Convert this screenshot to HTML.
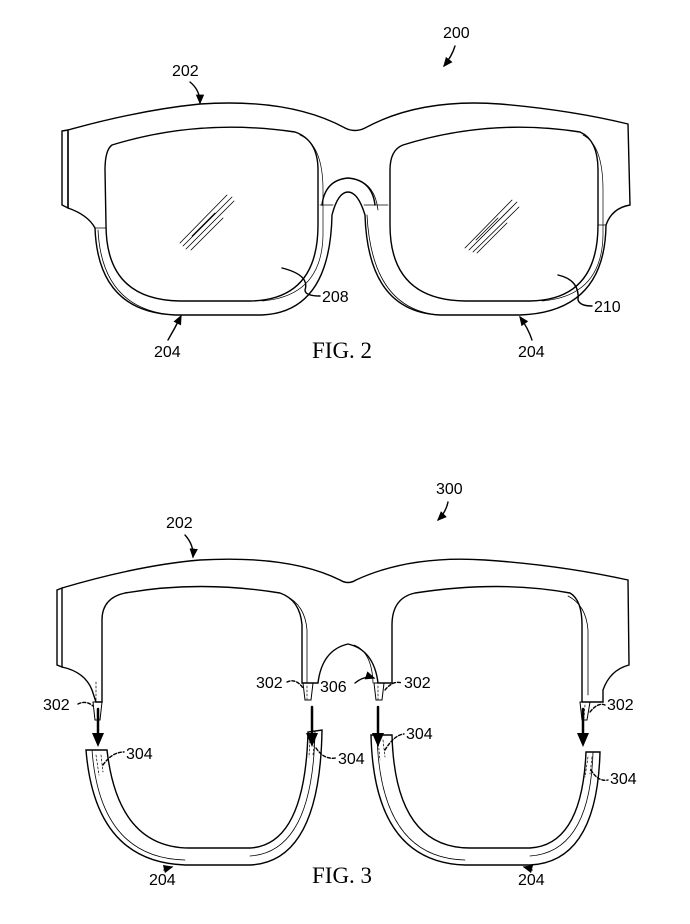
<!DOCTYPE html>
<html><head><meta charset="utf-8"><style>
html,body{margin:0;padding:0;background:#fff}
svg{display:block}
text{font-family:"Liberation Sans",sans-serif;font-size:16px;fill:#000}
.fig{font-family:"Liberation Serif",serif;font-size:23px}
</style></head><body>
<svg width="690" height="924" viewBox="0 0 690 924" xmlns="http://www.w3.org/2000/svg" fill="none" stroke="#000" stroke-width="1.4" stroke-linecap="round">
<defs><marker id="ah" markerWidth="8" markerHeight="8" refX="6" refY="4" orient="auto"><path d="M0,1 L7,4 L0,7 Z" fill="#000" stroke="none"/></marker></defs>

<!-- FIG 2 -->
<text x="443" y="38" stroke="none">200</text>
<path d="M455,46 Q452,56 444,66" marker-end="url(#ah)"/>
<text x="172" y="76" stroke="none">202</text>
<path d="M190,82 Q200,90 200,103" marker-end="url(#ah)"/>
<path d="M68,130 Q140,110 200,104 Q290,98 345,128 Q355,133 365,128 Q420,98 500,104 Q570,110 628,124 L630,205 Q612,208 606,225 Q605,312 520,315 L440,315 Q368,312 365,215 Q358,192 348,192 Q338,192 332,215 Q330,312 262,315 L175,315 Q98,312 95,228 Q88,215 68,208 Z"/>
<path d="M62,131 L68,130 L68,208 L62,205 Z"/>
<path d="M112,145 Q200,118 295,132 Q318,140 318,170 L318,225 Q318,300 250,301 L180,301 Q106,300 106,225 L105,170 Q105,150 112,145 Z"/>
<path d="M300,135 Q323,145 323,190 L323,235 Q322,296 262,301" stroke-width="0.7"/>
<path d="M403,145 Q490,118 580,132 Q598,140 598,170 L598,225 Q598,300 530,301 L465,301 Q390,300 390,225 L390,170 Q390,150 403,145 Z"/>
<path d="M583,135 Q603,145 603,190 L603,235 Q602,296 542,301" stroke-width="0.7"/>
<path d="M322,205 Q325,180 348,178 Q372,180 375,205"/>
<path d="M357,180 Q375,185 378,210" stroke-width="0.8"/>
<path d="M95,228 L106,228 M320,205 L333,205 M364,205 L388,205 M598,225 L606,225" stroke-width="0.8"/>
<path d="M98,230 Q102,310 175,315" stroke-width="0.8"/>
<path d="M367,215 Q372,310 440,315" stroke-width="0.8"/>
<g stroke-width="0.8">
<path d="M180,243 L227,195 M183,246 L232,197 M186,249 L234,201 M191,250 L223,218 M192,236 L215,213"/>
<path d="M465,248 L512,200 M469,250 L517,202 M473,252 L519,207 M477,253 L507,223 M476,240 L498,218"/>
</g>
<path d="M282,268 Q310,275 305,290 Q305,296 320,296"/>
<text x="322" y="302" stroke="none">208</text>
<path d="M558,275 Q580,280 578,300 Q580,306 592,306"/>
<text x="594" y="312" stroke="none">210</text>
<path d="M168,340 Q175,328 181,316" marker-end="url(#ah)"/>
<text x="154" y="357" stroke="none">204</text>
<path d="M532,340 Q528,328 520,317" marker-end="url(#ah)"/>
<text x="518" y="357" stroke="none">204</text>
<text class="fig" x="312" y="358" stroke="none">FIG. 2</text>

<!-- FIG 3 -->
<text x="436" y="494" stroke="none">300</text>
<path d="M448,502 Q446,512 438,520" marker-end="url(#ah)"/>
<text x="166" y="528" stroke="none">202</text>
<path d="M185,535 Q194,545 193,557" marker-end="url(#ah)"/>
<path d="M62,588 Q140,565 200,560 Q290,555 340,580 Q348,585 356,580 Q410,555 485,560 Q560,565 628,580 L629,665 Q610,670 603,690 L603,702 L582,702"/>
<path d="M57,590 L62,588 L62,667 L57,665 Z"/>
<path d="M62,667 Q85,672 92,690 L96,702 L102,702 L102,620 Q102,598 125,593 Q200,580 280,593 Q300,600 302,625 L302,683 L318,683 Q322,650 348,644 Q374,650 378,683 L392,683 L392,625 Q392,598 415,593 Q500,580 570,593 Q582,600 582,625 L582,702"/>
<path d="M286,596 Q305,605 307,630 L307,683" stroke-width="0.8"/>
<path d="M354,645 Q372,652 373,683" stroke-width="0.8"/>
<path d="M568,596 Q586,605 588,630 L588,695" stroke-width="0.8"/>
<g stroke-width="1">
<path d="M93,702 L102,702 L100,720 L95,720 Z"/>
<path d="M303,683 L313,683 L311,700 L305,700 Z"/>
<path d="M374,683 L384,683 L382,700 L376,700 Z"/>
<path d="M580,702 L590,702 L587,720 L582,720 Z"/>
</g>
<g stroke-width="2.5">
<path d="M98,709 L98,735"/><path d="M312,707 L312,735"/><path d="M378,707 L378,735"/><path d="M583,709 L583,735"/>
</g>
<g fill="#000" stroke="none">
<path d="M92,733 L104,733 L98,747 Z"/><path d="M306,733 L318,733 L312,747 Z"/><path d="M372,733 L384,733 L378,747 Z"/><path d="M577,733 L589,733 L583,747 Z"/>
</g>
<path d="M86,750 L107,750 Q118,848 190,848 L250,848 Q305,845 308,732 L322,730 Q320,862 250,865 L185,865 Q95,862 86,750 Z"/>
<path d="M92,750 Q100,858 185,860 M315,731 Q313,852 250,856" stroke-width="0.8"/>
<path d="M371,735 L392,735 Q395,848 470,848 L530,848 Q582,845 586,752 L600,752 Q597,862 530,865 L465,865 Q374,862 371,735 Z"/>
<path d="M377,735 Q380,858 465,860 M593,752 Q590,852 530,856" stroke-width="0.8"/>
<g stroke-width="0.7" stroke-dasharray="2,2">
<path d="M96,755 L99,775 M101,755 L103,772 M310,737 L309,757 M315,737 L313,755 M378,740 L380,760 M383,740 L385,757 M588,757 L585,777 M592,757 L590,774 M96,682 L96,700 M307,686 L307,699 M378,686 L378,699 M585,705 L584,718"/>
</g>
<path d="M78,704 Q86,700 93,706" stroke-dasharray="3,2"/>
<text x="43" y="710" stroke="none">302</text>
<path d="M287,682 Q296,678 303,688" stroke-dasharray="3,2"/>
<text x="256" y="688" stroke="none">302</text>
<path d="M355,683 Q365,675 374,678" marker-end="url(#ah)"/>
<text x="320" y="692" stroke="none">306</text>
<path d="M385,690 Q393,680 402,683" stroke-dasharray="3,2"/>
<text x="404" y="688" stroke="none">302</text>
<path d="M590,712 Q598,702 605,705" stroke-dasharray="3,2"/>
<text x="607" y="710" stroke="none">302</text>
<path d="M103,765 Q112,752 124,752" stroke-dasharray="3,2"/>
<text x="126" y="759" stroke="none">304</text>
<path d="M316,748 Q324,760 336,758" stroke-dasharray="3,2"/>
<text x="338" y="764" stroke="none">304</text>
<path d="M385,750 Q394,735 404,734" stroke-dasharray="3,2"/>
<text x="406" y="739" stroke="none">304</text>
<path d="M591,770 Q598,782 608,780" stroke-dasharray="3,2"/>
<text x="610" y="784" stroke="none">304</text>
<path d="M164,870 Q168,868 172,867" marker-end="url(#ah)"/>
<text x="149" y="885" stroke="none">204</text>
<path d="M532,870 Q528,868 524,867" marker-end="url(#ah)"/>
<text x="518" y="885" stroke="none">204</text>
<text class="fig" x="312" y="883" stroke="none">FIG. 3</text>
</svg>
</body></html>
